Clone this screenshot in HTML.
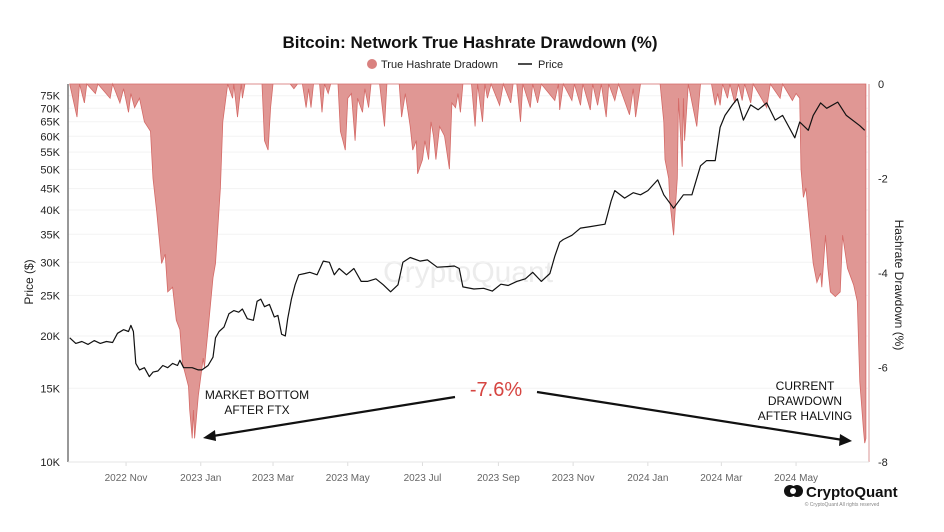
<!DOCTYPE html>
<html><head><meta charset="utf-8"><style>
html,body{margin:0;padding:0;background:#fff;width:944px;height:532px;overflow:hidden;font-family:"Liberation Sans",sans-serif;}
</style></head><body>
<svg id="chart" width="944" height="532" viewBox="0 0 944 532" xmlns="http://www.w3.org/2000/svg" font-family="Liberation Sans, sans-serif">
<text x="470" y="48" text-anchor="middle" font-size="17" font-weight="bold" fill="#111">Bitcoin: Network True Hashrate Drawdown (%)</text>
<g>
<circle cx="372" cy="64" r="5" fill="#d9817f"/>
<text x="381" y="68" font-size="11" fill="#222">True Hashrate Dradown</text>
<line x1="518" y1="64" x2="532" y2="64" stroke="#111" stroke-width="1.5"/>
<text x="538" y="68" font-size="11" fill="#222">Price</text>
</g>
<text x="468" y="282" text-anchor="middle" font-size="30" fill="#ececec">CryptoQuant</text>
<g id="grid"></g>
<g id="area"></g>
<g id="line"></g>
<g id="axes"></g>
<g font-size="12" fill="#111">
<text x="257" y="399" text-anchor="middle">MARKET BOTTOM</text>
<text x="257" y="414" text-anchor="middle">AFTER FTX</text>
<text x="496" y="396" text-anchor="middle" font-size="20" fill="#d64541">-7.6%</text>
<text x="805" y="390" text-anchor="middle">CURRENT</text>
<text x="805" y="405" text-anchor="middle">DRAWDOWN</text>
<text x="805" y="420" text-anchor="middle">AFTER HALVING</text>
<line x1="455" y1="397" x2="213" y2="436" stroke="#111" stroke-width="2.2"/>
<polygon points="203,438 215,430 216,441" fill="#111"/>
<line x1="537" y1="392" x2="843" y2="440" stroke="#111" stroke-width="2.2"/>
<polygon points="852,441 840,434 839,446" fill="#111"/>
</g>
<g>
<circle cx="790" cy="491" r="6" fill="#111"/><circle cx="797" cy="491" r="6" fill="#111"/><circle cx="793" cy="491" r="3" fill="#fff"/>
<text x="806" y="497" font-size="15" font-weight="bold" fill="#111">CryptoQuant</text>
<text x="842" y="506" text-anchor="middle" font-size="5" fill="#888">© CryptoQuant All rights reserved</text>
</g>
</svg>
<script>
// Day offsets since 2022-09-16
const ddDays=[0,6,8,12,14,21,23,33,35,41,44,48,50,53,57,61,66,68,71,75,78,80,84,87,90,92,97,98,100,101,102,105,109,110,113,117,119,123,125,129,133,134,137,140,141,143,157,159,162,164,166,180,183,186,190,193,195,197,199,204,206,208,211,213,219,221,223,225,227,230,233,235,239,241,244,246,253,257,259,269,271,274,278,280,283,284,288,290,293,295,297,299,302,306,310,312,315,317,319,321,328,331,333,337,339,341,344,351,354,360,362,365,368,370,376,378,382,385,396,399,400,403,410,412,417,419,425,427,431,434,438,440,445,448,457,460,462,466,482,485,486,489,490,493,494,496,497,500,501,502,505,512,515,524,527,529,531,533,537,539,543,546,549,551,556,558,569,572,580,582,590,593,596,597,599,601,604,607,610,613,614,617,619,621,625,629,631,635,640,643,645,648,649,650];
const ddValues=[0,-0.7,0,-0.4,0,-0.2,0,-0.3,0,-0.4,-0.1,-0.6,-0.2,-0.5,-0.3,-0.8,-1.0,-2.0,-2.7,-3.8,-3.6,-4.4,-4.3,-5.0,-5.2,-5.9,-6.4,-6.9,-7.5,-6.9,-7.5,-6.6,-5.8,-6.0,-5.2,-4.1,-3.8,-2.2,-0.8,0,-0.3,0,-0.7,0,-0.3,0,0,-1.2,-1.4,-0.5,0,0,-0.1,0,0,-0.5,-0.1,-0.5,0,0,-0.6,0,-0.2,0,0,-1.0,-1.2,-1.4,-0.3,-0.2,-1.2,-0.3,-0.6,-0.1,-0.5,0,0,-0.9,0,0,-0.7,-0.2,-0.9,-1.4,-1.2,-1.9,-1.6,-1.2,-1.6,-0.8,-1.1,-1.6,-0.9,-1.1,-1.8,-0.4,-0.5,-0.2,-0.6,0,0,-0.9,0,-0.8,0,-0.3,0,-0.45,0,-0.4,0,0,-0.8,0,-0.5,0,-0.4,0,-0.35,0,-0.55,0,-0.35,0,-0.45,0,-0.55,0,-0.45,0,-0.7,0,-0.35,0,-0.65,-0.1,-0.7,0,0,-0.8,-1.6,-2.0,-2.5,-3.2,-2.8,-2.0,-0.3,-1.75,-0.3,-1.2,0,-0.9,0,0,-0.45,-0.2,-0.45,0,-0.3,0,-0.4,0,-0.35,0,-0.4,0,-0.5,0,-0.3,0,-0.35,-0.2,-0.3,-1.8,-2.4,-2.2,-3.0,-3.8,-4.2,-4.0,-4.3,-3.2,-3.9,-4.4,-4.5,-4.4,-3.2,-3.9,-4.25,-4.6,-6.3,-7.3,-7.6,-7.5];
const priceDays=[0,5,10,15,20,25,30,35,39,44,48,50,52,54,57,61,65,68,72,76,80,84,88,90,93,100,105,108,113,117,119,122,126,130,134,138,141,145,150,153,156,159,163,167,170,173,176,178,181,184,187,192,196,202,207,212,216,220,226,232,238,243,250,256,262,268,272,278,286,292,300,308,314,318,321,330,338,345,352,358,365,372,378,385,392,396,400,403,410,417,425,437,442,445,453,460,466,472,480,485,493,501,508,515,520,527,531,535,541,545,550,556,562,569,576,582,592,596,603,607,613,618,627,634,645,649];
const priceValues=[19.8,19.2,19.4,19.1,19.5,19.2,19.4,19.3,20.3,20.7,20.5,21.2,20.5,17.2,16.6,16.8,16.0,16.4,16.5,17.0,16.8,17.2,17.0,17.5,16.8,16.8,16.6,16.6,17.0,17.8,19.8,20.5,21.0,22.6,23.0,22.8,23.2,22.0,21.8,24.2,24.5,23.5,23.8,22.2,22.4,20.2,20.0,22.0,24.5,26.5,28.0,28.2,28.4,28.0,30.2,30.0,28.0,29.0,28.0,29.0,27.0,27.0,27.4,26.5,25.5,26.5,30.0,30.8,30.2,30.4,29.2,29.3,29.4,29.0,26.2,25.9,26.0,25.6,26.6,26.4,27.0,27.4,28.4,27.0,28.2,31.0,33.5,34.0,34.8,36.2,36.5,37.0,42.0,44.5,42.7,44.0,43.5,44.5,47.2,43.5,40.4,43.5,43.5,51.0,52.5,52.5,63.0,67.3,71.3,73.8,65.6,71.3,69.4,72.1,65.6,67.3,59.5,64.9,62.0,67.3,72.1,70.0,72.4,67.3,63.6,62.0];
const priceTicks=[10,15,20,25,30,35,40,45,50,55,60,65,70,75];
const ddTicks=[0,-2,-4,-6,-8];
const monthLabels=["2022 Nov","2023 Jan","2023 Mar","2023 May","2023 Jul","2023 Sep","2023 Nov","2024 Jan","2024 Mar","2024 May"];
const monthDays=[46,107,166,227,288,350,411,472,532,593];

const X0=69.7, PXD=1.2249, TOP=84, BOT=462;
const xS=d=>X0+d*PXD;
const yP=p=>BOT-126*Math.log2(p/10);
const yD=v=>TOP-v*(BOT-TOP)/8;
const NS="http://www.w3.org/2000/svg";
function mk(tag,attrs,parent,txt){const e=document.createElementNS(NS,tag);for(const k in attrs)e.setAttribute(k,attrs[k]);if(txt!==undefined)e.textContent=txt;document.getElementById(parent).appendChild(e);return e;}

priceTicks.forEach(t=>{
  const g=mk('line',{x1:68,x2:868,y1:yP(t),y2:yP(t),stroke:'#f3f3f3','stroke-width':1},'grid');
  
  
  const l=mk('text',{x:60,y:yP(t)+4,'text-anchor':'end','font-size':11,fill:'#222'},'axes',t+'K');
  
  
});
ddTicks.forEach(t=>{
  const l=mk('text',{x:878,y:yD(t)+4,'font-size':11,fill:'#222'},'axes',String(t));
  
  
});
monthLabels.forEach((m,i)=>{
  const x=xS(monthDays[i]);
  const tk=mk('line',{x1:x,x2:x,y1:BOT,y2:BOT+4,stroke:'#ddd'},'axes');
  
  
  const l=mk('text',{x:x,y:481,'text-anchor':'middle','font-size':10,fill:'#666'},'axes',m);
  
  
});
let d='M'+xS(ddDays[0])+','+yD(0);
ddDays.forEach((dd,i)=>{d+=' L'+xS(dd).toFixed(1)+','+yD(ddValues[i]).toFixed(1);});
d+=' L'+xS(ddDays[ddDays.length-1]).toFixed(1)+','+yD(0)+' Z';
const area=mk('path',{d:d,fill:'#e09794',stroke:'#d46a67','stroke-width':0.8},'area');


let pd='';
priceDays.forEach((dd,i)=>{pd+=(i?' L':'M')+xS(dd).toFixed(1)+','+yP(priceValues[i]).toFixed(1);});
const pl=mk('path',{d:pd,fill:'none',stroke:'#111','stroke-width':1.2,'stroke-linejoin':'round'},'line');


const la=mk('line',{x1:68,x2:68,y1:TOP,y2:BOT,stroke:'#777','stroke-width':1.5},'axes');


const ra=mk('line',{x1:869,x2:869,y1:TOP,y2:BOT,stroke:'#e6b9b8','stroke-width':1.5},'axes');


const ba=mk('line',{x1:68,x2:869,y1:BOT,y2:BOT,stroke:'#e5e5e5','stroke-width':1},'axes');


const yt=mk('text',{x:0,y:0,'text-anchor':'middle','font-size':12,fill:'#222',transform:'translate(33,282) rotate(-90)'},'axes','Price ($)');


const yt2=mk('text',{x:0,y:0,'text-anchor':'middle','font-size':12,fill:'#222',transform:'translate(895,285) rotate(90)'},'axes','Hashrate Drawdown (%)');


</script>
</body></html>
